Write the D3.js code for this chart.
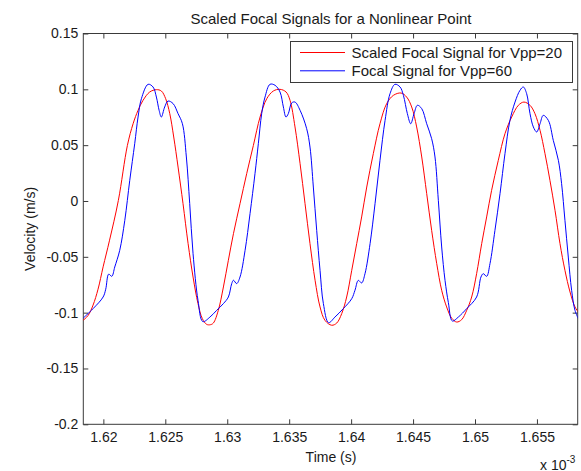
<!DOCTYPE html>
<html>
<head>
<meta charset="utf-8">
<script src="https://cdn.jsdelivr.net/npm/d3@7"></script>
<style>
  body { margin: 0; background: #fff; }
  svg text { font-family: "Liberation Sans", Arial, sans-serif; fill: #1a1a1a; }
</style>
</head>
<body>
<svg id="chart"></svg>
<script>
const width = 581
const height = 471

// time in units of 1e-3 s, velocity in m/s
const redT = [1.61836,1.61877,1.61917,1.61957,1.61998,1.62050,1.62121,1.62194,1.62240,1.62280,1.62320,
  1.62374,1.62428,1.62468,1.62503,1.62536,1.62568,1.62603,1.62643,1.62684,1.62724,
  1.62764,1.62799,1.62834,1.62864,1.62888,1.62928,1.62969,1.63009,1.63050,1.63103,
  1.63157,1.63211,1.63265,1.63319,1.63372,1.63426,1.63475,1.63507,1.63547,1.63588,
  1.63628,1.63668,1.63709,1.63749,1.63789,1.63843,1.63884,1.63924,1.63964,1.64005,
  1.64045,1.64085,1.64126,1.64179,1.64233,1.64287,1.64341,1.64403,1.64448,1.64489,
  1.64529,1.64570,1.64610,1.64650,1.64691,1.64731,1.64771,1.64812,1.64852,1.64892,
  1.64933,1.64973,1.65013,1.65054,1.65094,1.65134,1.65188,1.65242,1.65296,1.65350,
  1.65395,1.65444,1.65484,1.65525,1.65565,1.65605,1.65646,1.65686,1.65726,1.65767,
  1.65807,1.65834]
const redV = [-0.1069,-0.1025,-0.0932,-0.0790,-0.0590,-0.0351,0.0005,0.0498,0.0692,0.0812,0.0901,
  0.0976,0.0997,0.0985,0.0916,0.0782,0.0573,0.0304,-0.0024,-0.0382,-0.0681,
  -0.0919,-0.1054,-0.1105,-0.1108,-0.1093,-0.0979,-0.0770,-0.0531,-0.0293,-0.0024,
  0.0245,0.0498,0.0752,0.0916,0.0985,0.1000,0.0976,0.0901,0.0663,0.0334,
  -0.0024,-0.0382,-0.0710,-0.0949,-0.1069,-0.1113,-0.1093,-0.1009,-0.0860,-0.0621,
  -0.0382,-0.0143,0.0125,0.0424,0.0692,0.0872,0.0946,0.0967,0.0931,0.0842,
  0.0663,0.0394,0.0066,-0.0263,-0.0561,-0.0800,-0.0949,-0.1050,-0.1084,-0.1063,
  -0.0979,-0.0860,-0.0651,-0.0382,-0.0143,0.0095,0.0364,0.0603,0.0752,0.0857,
  0.0886,0.0857,0.0782,0.0633,0.0424,0.0185,-0.0084,-0.0382,-0.0621,-0.0815,
  -0.0949,-0.0994]

const blueT = [1.61836,1.61917,1.61998,1.62019,1.62043,1.62068,1.62092,1.62132,1.62173,1.62213,
  1.62253,1.62280,1.62307,1.62361,1.62401,1.62428,1.62450,1.62468,1.62495,1.62522,
  1.62563,1.62603,1.62638,1.62670,1.62697,1.62724,1.62764,1.62803,
  1.62861,1.62915,1.62969,1.63009,1.63036,1.63050,1.63076,1.63103,1.63144,1.63184,
  1.63224,1.63251,1.63278,1.63305,1.63345,1.63386,1.63426,1.63453,1.63474,1.63493,
  1.63520,1.63547,1.63588,1.63641,1.63668,1.63695,1.63722,1.63749,1.63776,1.63818,
  1.63870,1.63937,1.64005,1.64031,1.64058,1.64085,1.64112,1.64153,1.64193,1.64233,
  1.64274,1.64314,1.64354,1.64395,1.64422,1.64454,1.64481,1.64508,1.64535,1.64570,
  1.64610,1.64650,1.64677,1.64704,1.64731,1.64758,1.64785,1.64817,
  1.64866,1.64933,1.65013,1.65048,1.65067,1.65094,1.65121,1.65161,1.65202,1.65242,
  1.65282,1.65323,1.65363,1.65390,1.65417,1.65444,1.65471,1.65498,1.65525,1.65551,
  1.65592,1.65632,1.65673,1.65699,1.65726,1.65753,1.65780,1.65807,1.65834]
const blueV = [-0.1050,-0.0964,-0.0860,-0.0790,-0.0655,-0.0675,-0.0591,-0.0442,-0.0173,0.0185,
  0.0513,0.0752,0.0916,0.1045,0.1021,0.0931,0.0812,0.0752,0.0842,0.0895,
  0.0872,0.0782,0.0692,0.0394,-0.0024,-0.0472,-0.0890,-0.1080,
  -0.1039,-0.0979,-0.0919,-0.0860,-0.0740,-0.0710,-0.0740,-0.0681,-0.0442,-0.0113,
  0.0245,0.0513,0.0782,0.0931,0.1045,0.1036,0.0976,0.0842,0.0752,0.0782,
  0.0878,0.0886,0.0812,0.0648,0.0483,0.0125,-0.0263,-0.0621,-0.0919,-0.1090,
  -0.1039,-0.0964,-0.0875,-0.0800,-0.0711,-0.0734,-0.0651,-0.0382,-0.0024,0.0364,
  0.0722,0.0961,0.1045,0.1021,0.0946,0.0782,0.0692,0.0782,0.0857,0.0827,
  0.0692,0.0558,0.0394,0.0006,-0.0412,-0.0711,-0.0910,-0.1075,
  -0.1039,-0.0964,-0.0860,-0.0681,-0.0651,-0.0675,-0.0561,-0.0263,0.0066,0.0424,
  0.0722,0.0886,0.0991,0.1021,0.0961,0.0782,0.0663,0.0618,0.0692,0.0767,
  0.0722,0.0543,0.0364,0.0155,-0.0173,-0.0502,-0.0800,-0.0979,-0.1054]

const xTicks = [1.62, 1.625, 1.63, 1.635, 1.64, 1.645, 1.65, 1.655]
const yTicks = [-0.2, -0.15, -0.1, -0.05, 0, 0.05, 0.1, 0.15]
const seriesNames = ["Scaled Focal Signal for Vpp=20", "Focal Signal for Vpp=60"]
const seriesColors = ["#ff0000", "#0000ff"]

const plotLeft = 83.3, plotRight = 577.7, plotTop = 33.5, plotBottom = 424.3

const x = d3.scaleLinear().domain([1.61838, 1.65829]).range([plotLeft, plotRight])
const y = d3.scaleLinear().domain([-0.2, 0.15]).range([plotBottom, plotTop])

const svg = d3.select("#chart").attr("width", width).attr("height", height)

svg.append("defs").append("clipPath").attr("id", "plotClip")
   .append("rect")
   .attr("x", plotLeft).attr("y", plotTop)
   .attr("width", plotRight - plotLeft).attr("height", plotBottom - plotTop)

const fmt = d => String(+d.toFixed(3))
const axisColor = "#3a3a3a"

svg.append("g").attr("transform", `translate(0,${plotBottom})`)
   .call(d3.axisBottom(x).tickValues(xTicks).tickFormat(fmt).tickSizeInner(-5).tickSizeOuter(0).tickPadding(8))
svg.append("g").attr("transform", `translate(0,${plotTop})`)
   .call(d3.axisTop(x).tickValues(xTicks).tickFormat("").tickSizeInner(-5).tickSizeOuter(0))
svg.append("g").attr("transform", `translate(${plotLeft},0)`)
   .call(d3.axisLeft(y).tickValues(yTicks).tickFormat(fmt).tickSizeInner(-5).tickSizeOuter(0).tickPadding(5))
svg.append("g").attr("transform", `translate(${plotRight},0)`)
   .call(d3.axisRight(y).tickValues(yTicks).tickFormat("").tickSizeInner(-5).tickSizeOuter(0))

svg.selectAll(".domain").remove()
svg.selectAll(".tick line").attr("stroke", axisColor)
svg.selectAll(".tick text").attr("font-size", 14).attr("fill", "#1a1a1a")
   .attr("font-family", "Liberation Sans, Arial, sans-serif")

svg.append("rect")
   .attr("x", plotLeft).attr("y", plotTop)
   .attr("width", plotRight - plotLeft).attr("height", plotBottom - plotTop)
   .attr("fill", "none").attr("stroke", axisColor).attr("stroke-width", 1)

const line = d3.line()
   .x(d => x(d[0]))
   .y(d => y(d[1]))
   .curve(d3.curveCatmullRom.alpha(0.5))

const plot = svg.append("g").attr("clip-path", "url(#plotClip)")

plot.append("path")
   .datum(redT.map((t, i) => [t, redV[i]]))
   .attr("d", line).attr("fill", "none")
   .attr("stroke", seriesColors[0]).attr("stroke-width", 1)

plot.append("path")
   .datum(blueT.map((t, i) => [t, blueV[i]]))
   .attr("d", line).attr("fill", "none")
   .attr("stroke", seriesColors[1]).attr("stroke-width", 1)

// legend
const legend = svg.append("g")
legend.append("rect")
   .attr("x", 290.5).attr("y", 41.5).attr("width", 282).attr("height", 41)
   .attr("fill", "#fff").attr("stroke", axisColor).attr("stroke-width", 1)

seriesNames.forEach((name, i) => {
  const ly = 52.5 + i * 18.3
  legend.append("line")
     .attr("x1", 300).attr("x2", 345).attr("y1", ly).attr("y2", ly)
     .attr("stroke", seriesColors[i]).attr("stroke-width", 1)
  legend.append("text")
     .attr("x", 351.5).attr("y", ly + 5.5)
     .attr("font-size", 15)
     .text(name)
})

svg.append("text")
   .attr("x", 331).attr("y", 23.5)
   .attr("text-anchor", "middle").attr("font-size", 15)
   .text("Scaled Focal Signals for a Nonlinear Point")

svg.append("text")
   .attr("x", 331).attr("y", 461.5)
   .attr("text-anchor", "middle").attr("font-size", 14)
   .text("Time (s)")

svg.append("text")
   .attr("transform", `translate(35,${(plotTop + plotBottom) / 2}) rotate(-90)`)
   .attr("text-anchor", "middle").attr("font-size", 14)
   .text("Velocity (m/s)")

const expo = svg.append("text").attr("x", 540).attr("y", 469.5).attr("font-size", 14)
expo.append("tspan").text("x 10")
expo.append("tspan").attr("dy", -7).attr("font-size", 10).text("-3")
</script>
</body>
</html>
